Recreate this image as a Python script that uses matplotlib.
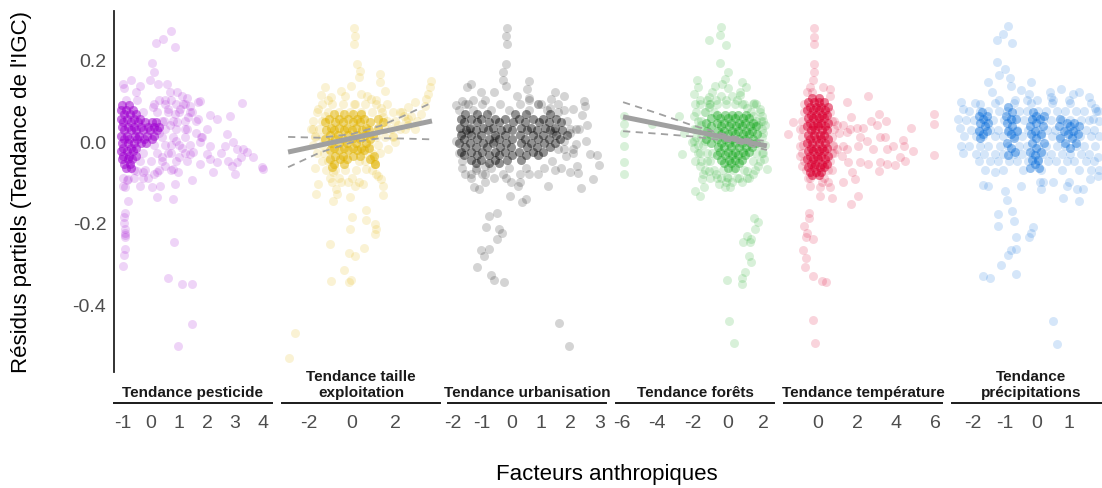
import numpy as np
import matplotlib.pyplot as plt

plt.rcParams['font.family'] = ['Liberation Sans', 'DejaVu Sans']
plt.rcParams['axes.unicode_minus'] = False

# panneaux (facettes)
panel_titles = ['Tendance pesticide', 'Tendance taille\nexploitation', 'Tendance urbanisation',
                'Tendance forêts', 'Tendance température', 'Tendance\nprécipitations']
panel_colors = ['#A000D2', '#E3B400', '#000000', '#1AAA22', '#DC0032', '#0A6EDC']
panel_xlims = [(-1.32, 4.32), (-3.22, 4.05), (-2.17, 3.23), (-6.33, 2.6), (-1.74, 6.36), (-2.66, 2.28)]
panel_xticks = [[-1, 0, 1, 2, 3, 4], [-2, 0, 2], [-2, -1, 0, 1, 2, 3], [-6, -4, -2, 0, 2], [0, 2, 4, 6], [-2, -1, 0, 1]]
y_ticks = [-0.4, -0.2, 0.0, 0.2]
# nombre d'observations superposees dans les zones denses (par panneau)
core_counts = [4, 4, 3, 3, 4, 3]

# residus partiels - pesticide (points isoles)
pest_pts = [(0.70, 0.27), (0.42, 0.25), (0.17, 0.24), (0.86, 0.23), (0.02, 0.19), (0.11, 0.17), (-0.04, 0.15),
            (-0.73, 0.15), (-1.01, 0.14), (-0.95, 0.13), (0.26, 0.14), (0.56, 0.14), (-0.39, 0.135), (-0.55, 0.12),
            (0.92, 0.12), (1.10, 0.11), (1.27, 0.105), (0.68, 0.12), (1.69, 0.095), (1.75, 0.097), (3.24, 0.093),
            (2.11, 0.064), (2.82, 0.06), (1.39, 0.086), (1.04, 0.078), (0.62, 0.078), (0.08, 0.082), (1.33, 0.058),
            (2.35, 0.054), (1.69, 0.054), (0.92, 0.046), (0.68, 0.038), (1.45, 0.07), (1.15, 0.09), (0.5, 0.1),
            (0.85, 0.065), (1.2, 0.03), (0.45, 0.05), (0.3, 0.02), (2.70, 0.017), (2.94, -0.003), (3.06, -0.02),
            (3.30, -0.02), (3.42, -0.026), (3.65, -0.04), (3.95, -0.064), (4.01, -0.069), (3.00, -0.081),
            (2.64, -0.011), (2.11, -0.011), (1.75, -0.003), (1.81, 0.009), (1.99, -0.032), (1.51, -0.028),
            (1.39, -0.032), (2.11, -0.044), (2.35, -0.052), (2.23, -0.077), (2.76, -0.048), (3.06, -0.052),
            (1.75, -0.056), (1.10, -0.016), (0.98, -0.077), (0.86, -0.105), (1.45, -0.095), (0.80, -0.142),
            (0.20, -0.138), (-0.39, -0.109), (0.02, -0.113), (0.32, -0.109), (0.80, -0.069), (0.20, -0.077),
            (-0.27, -0.077), (-0.51, -0.073), (0.5, -0.06), (0.6, -0.03), (0.9, 0.0), (1.3, -0.05), (2.5, -0.03),
            (3.2, -0.04), (2.9, -0.06), (1.6, 0.02), (2.0, 0.03), (0.7, -0.01), (1.0, -0.04), (0.4, -0.04),
            (0.1, -0.08), (-0.1, -0.09), (-0.81, -0.093), (-0.93, -0.113), (-0.81, -0.146), (-0.93, -0.175),
            (-0.96, -0.187), (-0.93, -0.215), (-0.93, -0.224), (-0.93, -0.236), (-0.93, -0.263), (-0.96, -0.279),
            (-0.99, -0.305), (0.83, -0.246), (0.62, -0.334), (1.10, -0.35), (1.45, -0.35), (1.45, -0.448),
            (0.98, -0.501), (-1.0, -0.11), (-0.87, -0.095), (-0.95, -0.2), (-0.92, -0.23)]
# zones moyennement denses : (y, [x ...])
pest_mid = [(0.10, [-0.9, -0.5, 0.3, 0.7]), (0.09, [0.1, 0.5, 0.9, 1.2]), (0.07, [-0.3, 0.2, 0.6, 1.0, 1.4]),
            (0.05, [0.4, 0.8, 1.2, 1.6]), (0.03, [0.5, 0.9, 1.3]), (0.01, [0.4, 0.8, 1.2, 1.8]),
            (-0.01, [0.1, 0.5, 1.0, 1.4]), (-0.03, [-0.3, 0.2, 0.7, 1.2]), (-0.05, [-0.4, 0.0, 0.4, 0.9]),
            (-0.07, [-0.6, -0.2, 0.3, 0.7]), (-0.09, [-1.0, -0.6, -0.3])]
# zones tres denses
pest_core = [(0.087, [-1.02, -0.78]), (0.076, [-1.06, -0.88, -0.63]), (0.066, [-0.97, -0.74, -0.52]),
             (0.053, [-1.07, -0.86, -0.62, -0.38]), (0.046, [-0.99, -0.71, -0.48, -0.22, 0.03, 0.18]),
             (0.034, [-1.04, -0.83, -0.6, -0.37, -0.12, 0.09, 0.27]),
             (0.027, [-0.95, -0.73, -0.52, -0.27, -0.02, 0.21]),
             (0.013, [-1.06, -0.87, -0.57, -0.41, -0.13, 0.12]), (0.004, [-0.98, -0.77, -0.49, -0.24, 0.02]),
             (-0.006, [-1.03, -0.83, -0.62, -0.37, -0.17]), (-0.017, [-0.99, -0.72, -0.52]),
             (-0.024, [-1.07, -0.86, -0.63]), (-0.036, [-1.01, -0.77, -0.53]), (-0.044, [-1.04, -0.83, -0.66]),
             (-0.057, [-0.97, -0.74]), (-0.066, [-0.88, -0.71])]

# taille exploitation
taille_pts = [(0.09, 0.276), (0.15, 0.256), (0.09, 0.237), (0.21, 0.188), (0.35, 0.172), (0.31, 0.156),
              (1.27, 0.164), (1.27, 0.145), (1.50, 0.123), (-0.06, 0.134), (0.43, 0.115), (-1.26, 0.131),
              (-1.41, 0.113), (-0.95, 0.107), (-0.49, 0.123), (3.65, 0.148), (3.57, 0.131), (3.49, 0.115),
              (3.42, 0.103), (3.34, 0.086), (2.88, 0.095), (2.57, 0.082), (3.19, 0.066), (2.73, 0.062),
              (1.35, 0.08), (1.43, 0.058), (0.89, 0.103), (0.12, 0.091), (-1.56, 0.078), (-1.26, 0.062),
              (-1.79, 0.029), (-1.72, 0.013), (-1.72, -0.067), (-1.56, -0.105), (-1.64, -0.13), (-0.72, -0.118),
              (-0.67, -0.13), (-0.87, -0.146), (-0.11, -0.138), (0.12, -0.109), (0.51, -0.105), (-0.18, -0.101),
              (1.43, -0.109), (1.43, -0.132), (1.20, -0.085), (1.35, -0.093), (0.66, -0.069), (1.04, -0.056),
              (1.96, -0.003), (2.42, 0.029), (1.66, -0.02), (1.89, 0.013), (2.11, 0.038), (2.88, 0.029),
              (2.57, 0.054), (0.66, -0.168), (0.0, -0.187), (0.66, -0.193), (1.04, -0.203), (1.12, -0.215),
              (1.04, -0.228), (-0.08, -0.215), (-1.0, -0.253), (-0.14, -0.273), (0.15, -0.282), (0.55, -0.262),
              (-0.37, -0.315), (-0.95, -0.342), (-0.15, -0.344), (-0.03, -0.339), (-2.61, -0.47), (-2.91, -0.53),
              (1.1, -0.08), (0.9, -0.04), (2.4, 0.06), (2.6, 0.04), (3.0, 0.05), (-0.9, -0.1), (-0.5, -0.1),
              (0.3, -0.1), (1.6, 0.09), (1.9, 0.07), (2.2, 0.07), (-1.1, 0.1), (-0.3, 0.11), (1.1, 0.1), (0.7, 0.11),
              (1.04, -0.056), (1.0, -0.05), (-0.87, -0.077)]
taille_mid = [(0.09, [-1.4, -0.9, -0.4, 0.1, 0.6, 1.1]), (0.07, [-1.6, -1.1, -0.6, -0.1, 0.4, 0.9, 1.4, 2.3]),
              (0.05, [-1.8, -1.4, 1.6, 2.0, 2.5]), (0.03, [-1.9, -1.5, 1.5, 1.8, 2.2]),
              (0.01, [-1.7, -1.4, 1.1, 1.5, 1.9]), (-0.01, [-1.8, -1.4, 0.8, 1.2]),
              (-0.03, [-1.6, -1.3, 0.5, 0.9, 1.3]), (-0.05, [-1.4, -1.1, 0.3, 0.6]),
              (-0.07, [-1.2, -0.8, -0.3, 0.2, 0.9]), (-0.09, [-1.0, -0.6, 0.0])]
taille_core = [(0.066, [-0.83, -0.37, 0.04, 0.42]), (0.054, [-1.04, -0.62, -0.18, 0.23, 0.57, 1.18]),
               (0.047, [-1.22, -0.79, -0.41, 0.03, 0.37, 0.84, 1.43]),
               (0.033, [-0.96, -0.58, -0.23, 0.18, 0.63, 1.21]),
               (0.026, [-1.18, -0.83, -0.37, 0.02, 0.44, 0.77]),
               (0.014, [-1.02, -0.64, -0.17, 0.24, 0.58, 0.98]),
               (0.006, [-1.24, -0.77, -0.43, -0.02, 0.37, 0.82]),
               (-0.004, [-0.97, -0.58, -0.22, 0.17, 0.63]), (-0.016, [-0.84, -0.38, 0.04, 0.42, 0.79]),
               (-0.023, [-1.03, -0.61, -0.17, 0.23, 0.57]), (-0.037, [-0.78, -0.42, 0.03, 0.38, 1.02]),
               (-0.044, [-1.02, -0.57, -0.22, 0.83]), (-0.056, [-0.81, -0.38, 1.04]), (-0.064, [-0.92])]
taille_fit_x = [-2.94, 3.68]
taille_fit_y = [-0.027, 0.049]
taille_ci_x = [-2.94, -1.47, 0.0, 1.3, 2.4, 3.68]
taille_ci_hi = [0.010, 0.008, 0.017, 0.037, 0.062, 0.094]
taille_ci_lo = [-0.064, -0.028, -0.003, 0.007, 0.006, 0.004]

# urbanisation
urb_pts = [(-0.14, 0.276), (-0.19, 0.256), (-0.14, 0.237), (-0.2, 0.188), (-0.28, 0.168), (-0.28, 0.15),
           (-0.2, 0.135), (0.6, 0.148), (0.52, 0.127), (-1.39, 0.14), (-1.53, 0.131), (-1.05, 0.119),
           (-0.6, 0.119), (0.2, 0.109), (0.6, 0.104), (1.5, 0.119), (1.81, 0.109), (1.34, 0.103), (1.0, 0.091),
           (2.47, 0.099), (2.5, 0.085), (2.42, 0.064), (2.59, 0.039), (2.11, 0.078), (-1.9, 0.088),
           (-1.68, 0.099), (2.70, -0.032), (2.93, -0.034), (2.99, -0.059), (2.79, -0.093), (2.36, -0.116),
           (2.0, -0.075), (2.25, -0.06), (2.27, -0.078), (1.25, -0.109), (1.85, -0.036), (2.19, -0.007),
           (2.53, 0.001), (-1.28, -0.113), (-1.11, -0.118), (-0.05, -0.135), (0.37, -0.15), (0.48, -0.142),
           (0.22, -0.109), (-0.77, -0.184), (-0.48, -0.176), (-0.88, -0.211), (-0.43, -0.215), (-0.31, -0.224),
           (-0.48, -0.24), (-1.05, -0.266), (-0.77, -0.264), (-0.94, -0.281), (-1.19, -0.307), (-0.71, -0.328),
           (-0.6, -0.339), (-0.26, -0.344), (1.64, -0.444), (1.96, -0.501), (-1.9, 0.0), (-1.7, 0.02),
           (-1.8, -0.03), (-1.7, -0.05), (-1.6, -0.08), (-1.4, -0.09), (-1.2, -0.07), (-1.0, -0.08),
           (-0.6, -0.09), (-0.2, -0.09), (0.0, -0.1), (0.6, -0.08), (1.4, -0.05), (1.6, -0.02), (1.8, 0.0),
           (2.0, 0.02), (2.2, 0.03), (1.9, 0.05), (1.6, 0.07), (1.3, 0.08), (-1.3, 0.1), (-0.9, 0.1), (0.9, 0.09),
           (2.1, -0.03), (1.5, -0.07), (0.3, -0.1), (-0.9, -0.1), (-1.5, 0.09), (0.6, 0.1),
           (-1.5, 0.02), (-1.45, 0.03), (-0.6, 0.0), (-0.55, 0.01), (1.4, 0.02), (1.45, 0.025), (-0.9, -0.06)]
urb_mid = [(0.09, [-1.6, -1.0, -0.4, 0.3, 0.9, 1.6]), (0.075, [-1.8, -1.3, -0.7, -0.1, 0.6, 1.2, 1.8]),
           (0.03, [2.0, 2.3]), (-0.02, [1.8, 2.1]), (-0.065, [-1.7, -1.2, -0.7, -0.1, 0.5, 1.1, 1.7]),
           (-0.08, [-1.4, -0.9, -0.3, 0.3, 0.9])]
urb_core = [(0.066, [-1.58, -1.17, -0.83, 0.12, 0.48, 1.33]),
            (0.054, [-1.73, -1.37, -1.04, -0.57, -0.22, 0.27, 0.73, 1.08, 1.52]),
            (0.047, [-1.62, -1.18, -0.78, -0.43, 0.04, 0.47, 0.93, 1.27, 1.68]),
            (0.033, [-1.77, -1.42, -0.97, -0.63, -0.17, 0.32, 0.68, 1.13, 1.47]),
            (0.026, [-1.57, -1.23, -0.82, -0.37, 0.02, 0.53, 0.87, 1.33, 1.72]),
            (0.014, [-1.72, -1.38, -1.03, -0.58, -0.23, 0.28, 0.74, 1.08, 1.53, 1.88]),
            (0.004, [-1.63, -1.17, -0.77, -0.42, 0.03, 0.47, 0.92, 1.28, 1.67]),
            (-0.006, [-1.78, -1.43, -0.98, -0.62, -0.18, 0.33, 0.67, 1.12, 1.48]),
            (-0.014, [-1.58, -1.22, -0.83, -0.38, -0.03, 0.52, 0.88, 1.32]),
            (-0.027, [-1.73, -1.37, -1.02, -0.57, -0.22, 0.27, 0.73, 1.07]),
            (-0.034, [-1.62, -1.18, -0.77, -0.43, 0.03, 0.48, 0.92]),
            (-0.046, [-1.38, -1.03, -0.58, -0.17, 0.32]), (-0.053, [-1.22, -0.78, -0.42])]

# forets
for_pts = [(-0.38, 0.278), (-0.43, 0.259), (-1.05, 0.248), (-0.09, 0.235), (-0.43, 0.191), (0.0, 0.17),
           (-0.15, 0.152), (-1.75, 0.15), (-1.69, 0.131), (-0.72, 0.134), (-0.34, 0.14), (0.79, 0.144),
           (1.02, 0.131), (0.7, 0.113), (-1.94, 0.115), (-1.85, 0.091), (1.45, 0.092), (1.83, 0.078),
           (1.88, 0.05), (-1.09, 0.107), (-1.09, 0.082), (-5.89, 0.062), (-5.89, 0.042), (-5.89, 0.02),
           (-5.89, -0.013), (-5.89, -0.051), (-5.89, -0.081), (-4.29, 0.042), (-2.79, 0.06), (-2.6, -0.032),
           (-2.03, -0.003), (-2.5, 0.02), (-1.85, -0.122), (-1.56, -0.135), (-1.37, -0.113), (-1.47, -0.093),
           (-1.09, -0.073), (-0.53, -0.105), (-0.15, -0.113), (0.13, -0.113), (-0.06, -0.089), (1.07, -0.073),
           (2.2, -0.069), (2.02, -0.044), (-1.85, -0.048), (-1.94, -0.016), (1.45, -0.189), (1.69, -0.199),
           (1.51, -0.215), (1.07, -0.232), (1.32, -0.24), (1.26, -0.248), (0.83, -0.248), (1.17, -0.281),
           (1.32, -0.297), (0.98, -0.32), (0.79, -0.336), (0.79, -0.35), (-0.06, -0.339), (0.08, -0.44),
           (0.32, -0.494), (-1.9, 0.06), (-1.8, 0.03), (-1.9, 0.0), (-1.7, -0.03), (-1.6, -0.06), (-1.4, -0.08),
           (-1.2, -0.05), (-1.3, 0.0), (-1.5, 0.04), (-1.3, 0.07), (-1.0, 0.09), (-0.7, 0.1), (-0.4, 0.11),
           (-0.1, 0.1), (0.2, 0.11), (0.5, 0.1), (0.8, 0.09), (1.1, 0.08), (1.4, 0.06), (1.7, 0.04), (2.0, 0.02),
           (2.1, -0.01), (1.9, -0.03), (1.7, -0.06), (1.4, -0.08), (1.1, -0.09), (0.8, -0.1), (0.5, -0.09),
           (0.2, -0.1), (-0.1, -0.1), (-0.4, -0.09), (-0.7, -0.08), (-1.0, -0.09), (1.9, 0.06), (1.6, 0.09),
           (-1.6, 0.1), (-0.9, 0.12), (0.0, 0.13), (0.7, 0.12), (2.1, 0.04), (-1.2, 0.1)]
for_mid = [(0.09, [-1.6, -1.1, -0.6, -0.1, 0.4, 0.9, 1.4]), (0.07, [-1.8, -1.3, -0.8, 1.3, 1.8]),
           (0.05, [-1.7, -1.5, 1.6, 2.0]), (0.03, [-1.9, -1.4, 1.9]), (0.01, [-1.8, -1.5, 1.9]),
           (-0.01, [-1.7, -1.4, 1.8]), (-0.03, [-1.6, -1.2, -0.9, 1.6, 2.0]), (-0.05, [-1.5, -1.0, 1.4, 1.8]),
           (-0.07, [-1.3, -0.8, -0.3, 0.3, 0.9, 1.5]), (-0.09, [-0.6, 0.0, 0.6, 1.2])]
for_core = [(0.064, [-0.62, -0.17, 0.23, 0.58, 1.03]), (0.056, [-0.98, -0.43, 0.02, 0.38, 0.83, 1.18]),
            (0.043, [-1.22, -0.63, -0.22, 0.17, 0.62, 0.98, 1.42]),
            (0.036, [-0.97, -0.38, 0.03, 0.43, 0.77, 1.23, 1.58]),
            (0.024, [-1.18, -0.57, -0.23, 0.22, 0.58, 1.02, 1.37]),
            (0.016, [-1.03, -0.42, -0.02, 0.37, 0.83, 1.17, 1.63]),
            (0.004, [-1.23, -0.63, -0.18, 0.23, 0.62, 0.97, 1.43]),
            (-0.006, [-0.98, -0.37, 0.03, 0.42, 0.78, 1.22, 1.57]),
            (-0.014, [-0.58, -0.22, 0.17, 0.63, 1.03, 1.38]), (-0.026, [-0.43, 0.02, 0.38, 0.82, 1.18]),
            (-0.034, [-0.62, -0.18, 0.23, 0.57, 0.97]), (-0.046, [-0.37, 0.03, 0.42, 0.78]),
            (-0.054, [-0.22, 0.18, 0.62]), (-0.066, [0.02, 0.37])]
for_fit_x = [-5.93, 2.2]
for_fit_y = [0.059, -0.012]
for_ci_x = [-5.93, -4.0, -2.0, 0.0, 1.0, 2.2]
for_ci_hi = [0.095, 0.068, 0.038, 0.014, 0.005, 0.0]
for_ci_lo = [0.024, 0.018, 0.011, 0.0, -0.009, -0.022]

# temperature
temp_pts = [(-0.19, 0.276), (-0.19, 0.254), (-0.19, 0.237), (-0.19, 0.188), (-0.19, 0.168), (-0.24, 0.15),
            (-0.41, 0.131), (0.27, 0.131), (0.62, 0.127), (-0.55, 0.119), (1.47, 0.096), (2.58, 0.109),
            (1.68, 0.058), (3.15, 0.066), (3.49, 0.05), (2.7, 0.05), (3.01, 0.038), (4.75, 0.031), (5.95, 0.066),
            (5.95, 0.042), (5.95, -0.033), (1.64, 0.029), (1.98, 0.033), (2.32, 0.033), (1.47, 0.021),
            (2.15, 0.009), (2.5, 0.001), (3.18, 0.009), (3.44, 0.011), (4.38, 0.003), (4.41, -0.011),
            (3.86, -0.011), (3.52, -0.02), (2.84, -0.02), (2.07, -0.011), (1.47, -0.02), (1.26, -0.011),
            (4.89, -0.024), (4.21, -0.04), (4.46, -0.048), (3.95, -0.059), (3.52, -0.056), (3.18, -0.052),
            (3.15, -0.073), (2.58, -0.056), (2.15, -0.052), (1.56, -0.051), (1.73, -0.077), (1.9, -0.093),
            (1.3, -0.101), (2.03, -0.134), (1.68, -0.154), (0.7, -0.14), (0.1, -0.135), (1.21, -0.036),
            (0.79, -0.011), (-0.44, -0.175), (-0.44, -0.189), (-0.72, -0.209), (-0.58, -0.224), (-0.62, -0.236),
            (-0.27, -0.24), (-0.75, -0.266), (-0.62, -0.285), (-0.67, -0.309), (-0.24, -0.33), (0.19, -0.342),
            (0.41, -0.344), (-0.24, -0.437), (-0.15, -0.493), (-1.52, 0.017), (-1.26, 0.046), (-0.92, -0.011),
            (-0.92, -0.036), (-0.41, -0.109), (0.1, -0.113), (0.62, -0.113), (0.53, -0.101), (-0.9, 0.03),
            (-0.8, -0.06), (0.8, 0.05), (0.8, -0.03), (0.7, -0.07), (-0.7, 0.09), (0.6, 0.11), (-0.3, 0.12),
            (0.2, -0.1), (-0.4, -0.09), (1.0, 0.04), (1.1, 0.02), (1.3, 0.04), (1.0, -0.02)]
temp_mid = [(0.07, [-0.7, 0.6]), (0.05, [-0.8, 0.7]), (0.03, [-0.75, 0.8]), (0.01, [-0.8, 0.7]),
            (-0.01, [-0.75, 0.75]), (-0.03, [-0.8, 0.7]), (-0.05, [-0.7, 0.6]), (-0.07, [-0.6, 0.5]),
            (-0.09, [-0.5, 0.3])]
temp_core = [(0.104, [-0.32, 0.03]), (0.096, [-0.53, -0.22, 0.07, 0.33]), (0.084, [-0.42, -0.08, 0.18, 0.52]),
             (0.076, [-0.57, -0.27, 0.03, 0.37]), (0.064, [-0.38, -0.12, 0.22, 0.48]),
             (0.057, [-0.52, -0.23, 0.07, 0.32]), (0.044, [-0.43, -0.07, 0.18, 0.53]),
             (0.036, [-0.58, -0.27, 0.02, 0.38]), (0.026, [-0.37, -0.13, 0.23, 0.47]),
             (0.014, [-0.53, -0.22, 0.08, 0.33]), (0.006, [-0.42, -0.08, 0.17, 0.52]),
             (-0.004, [-0.57, -0.28, 0.03, 0.37]), (-0.016, [-0.38, -0.12, 0.22, 0.48]),
             (-0.024, [-0.52, -0.23, 0.07, 0.32]), (-0.036, [-0.43, -0.07, 0.18, 0.53]),
             (-0.044, [-0.58, -0.27, 0.02, 0.38]), (-0.056, [-0.37, -0.13, 0.23, 0.47]),
             (-0.064, [-0.53, -0.22, 0.08, 0.33]), (-0.076, [-0.42, -0.08, 0.17]), (-0.084, [-0.28, 0.03])]

# precipitations
prec_pts = [(-0.92, 0.281), (-1.05, 0.262), (-1.25, 0.246), (-0.78, 0.24), (-1.25, 0.194), (-0.99, 0.176),
            (-1.18, 0.162), (-0.86, 0.153), (-0.83, 0.135), (-1.54, 0.144), (-1.41, 0.121), (-0.19, 0.145),
            (-0.24, 0.115), (0.75, 0.127), (1.32, 0.121), (1.61, 0.107), (1.11, 0.115), (0.44, 0.107),
            (-2.38, 0.095), (-2.32, 0.078), (-2.48, 0.054), (-2.42, 0.033), (-2.38, -0.011), (-2.32, -0.029),
            (1.9, 0.074), (1.95, 0.05), (1.74, 0.054), (-1.7, -0.107), (-1.54, -0.109), (-0.99, -0.122),
            (-0.95, -0.144), (0.18, -0.101), (0.49, -0.101), (0.8, -0.14), (1.32, -0.146), (1.26, -0.118),
            (1.43, -0.118), (0.13, -0.118), (0.93, -0.109), (-1.3, -0.075), (1.9, -0.085), (1.64, -0.093),
            (-1.21, -0.179), (-1.21, -0.207), (-0.78, -0.171), (-0.73, -0.195), (-0.14, -0.211), (-0.19, -0.224),
            (-0.26, -0.236), (-0.66, -0.236), (-0.66, -0.263), (-0.81, -0.266), (-0.92, -0.279), (-1.13, -0.304),
            (-1.68, -0.33), (-1.47, -0.334), (-0.66, -0.326), (0.51, -0.441), (0.61, -0.496), (-1.2, 0.1),
            (-0.7, 0.1), (-0.3, 0.1), (0.0, 0.1), (0.5, 0.1), (1.0, 0.1), (0.4, 0.12), (-0.5, 0.125),
            (1.8, 0.08), (-1.8, 0.09), (0.1, -0.1), (-0.5, -0.11), (1.0, -0.1), (1.9, -0.04), (1.7, -0.07)]
prec_mid = [(0.092, [-1.93, -1.31, -0.72, -0.18, 0.47, 1.02, 1.68]),
            (0.073, [-2.12, -1.77, -1.52, -1.18, -0.93, -0.57, -0.33, 0.04, 0.27, 0.63, 0.88, 1.23, 1.47, 1.83]),
            (0.052, [-2.23, -1.98, -1.62, -1.37, -1.02, -0.78, -0.42, -0.17, 0.18, 0.43, 0.77, 1.02, 1.38, 1.63]),
            (0.028, [-2.08, -1.83, -1.47, -1.22, -0.88, -0.63, -0.27, 0.03, 0.32, 0.57, 0.93, 1.18, 1.52, 1.77]),
            (0.012, [-2.27, -1.92, -1.68, -1.33, -1.07, -0.72, -0.47, -0.12, 0.13, 0.48, 0.72, 1.08, 1.33, 1.68,
                     1.93]),
            (-0.011, [-2.13, -1.78, -1.53, -1.17, -0.92, -0.58, -0.32, 0.03, 0.28, 0.62, 0.87, 1.22, 1.48, 1.82]),
            (-0.032, [-1.92, -1.67, -1.32, -1.08, -0.73, -0.48, -0.13, 0.17, 0.42, 0.78, 1.03, 1.37, 1.62]),
            (-0.049, [-1.83, -1.47, -1.22, -0.87, -0.62, -0.28, 0.02, 0.33, 0.58, 0.92, 1.17, 1.53, 1.78]),
            (-0.071, [-1.62, -1.08, -0.43, 0.12, 0.78, 1.32, 1.93])]
prec_core = [(0.082, [-0.92]), (0.071, [-1.72, -0.78, -0.12]), (0.062, [-1.83, -1.58, -0.97, -0.02, 0.23]),
             (0.053, [-1.68, -0.83, -0.67, -0.17, 0.08, 0.73]), (0.044, [-1.77, -1.52, -0.93, -0.03, 0.92, 1.17]),
             (0.036, [-1.63, -0.77, -0.22, 0.17, 0.68, 1.03, 1.32]),
             (0.024, [-1.82, -1.57, -0.92, -0.62, -0.07, 0.83, 1.12]),
             (0.016, [-1.68, -0.83, -0.18, 0.13, 0.97, 1.27]), (0.007, [-1.78, -0.72, -0.02, 0.72, 1.08]),
             (-0.004, [-0.93, -0.17, 0.22, 0.88, 1.22]), (-0.016, [-0.82, -0.03, 1.02]),
             (-0.027, [-0.68, -0.22, 0.12]), (-0.034, [-0.92, -0.07]), (-0.046, [-0.17, 0.03]),
             (-0.057, [-0.08]), (-0.066, [-0.22, 0.07])]

all_pts = [pest_pts, taille_pts, urb_pts, for_pts, temp_pts, prec_pts]
all_mid = [pest_mid, taille_mid, urb_mid, for_mid, temp_mid, prec_mid]
all_core = [pest_core, taille_core, urb_core, for_core, temp_core, prec_core]


def rows_xy(rows):
    xs = [x for yv, row in rows for x in row]
    ys = [yv for yv, row in rows for x in row]
    return np.array(xs), np.array(ys)


W, H = 1102, 489
fig = plt.figure(figsize=(W / 100, H / 100), dpi=100)
lefts = [114, 282, 448, 616, 784, 952]
top_px, bot_px = 12, 373
grey = '#A0A0A0'

for i in range(6):
    ax = fig.add_axes([lefts[i] / W, 1 - bot_px / H, 158 / W, (bot_px - top_px) / H])
    x, y = np.array(all_pts[i]).T
    mx, my = rows_xy(all_mid[i])
    cx, cy = rows_xy(all_core[i])
    cx = np.repeat(cx, core_counts[i])
    cy = np.repeat(cy, core_counts[i])
    ax.scatter(np.concatenate([x, mx, cx]), np.concatenate([y, my, cy]), s=42, color=panel_colors[i],
               alpha=0.17, linewidths=0)
    if i == 1:
        ax.plot(taille_fit_x, taille_fit_y, color=grey, lw=3.6, solid_capstyle='butt')
        ax.plot(taille_ci_x, taille_ci_hi, color=grey, lw=1.3, ls=(0, (4, 3)))
        ax.plot(taille_ci_x, taille_ci_lo, color=grey, lw=1.3, ls=(0, (4, 3)))
    if i == 3:
        ax.plot(for_fit_x, for_fit_y, color=grey, lw=3.6, solid_capstyle='butt')
        ax.plot(for_ci_x, for_ci_hi, color=grey, lw=1.3, ls=(0, (4, 3)))
        ax.plot(for_ci_x, for_ci_lo, color=grey, lw=1.3, ls=(0, (4, 3)))
    ax.set_xlim(panel_xlims[i])
    ax.set_ylim(-0.565, 0.318)
    ax.set_xticks(panel_xticks[i])
    ax.set_xticklabels([str(t) for t in panel_xticks[i]])
    ax.tick_params(axis='x', length=0, pad=30.5, labelsize=14, labelcolor='#4D4D4D')
    for s in ['top', 'right', 'bottom']:
        ax.spines[s].set_visible(False)
    if i == 0:
        ax.set_yticks(y_ticks)
        ax.set_yticklabels(['%.1f' % t for t in y_ticks])
        ax.tick_params(axis='y', length=0, pad=5.5, labelsize=14, labelcolor='#4D4D4D')
        ax.spines['left'].set_color('#222222')
        ax.spines['left'].set_linewidth(1.3)
    else:
        ax.set_yticks([])
        ax.spines['left'].set_visible(False)
    # bandeau de la facette sous le panneau
    ax.plot([0, 1], [-0.086, -0.086], transform=ax.transAxes, clip_on=False, color='#1A1A1A', lw=1.4)
    ax.text(0.5, -0.075, panel_titles[i], transform=ax.transAxes, ha='center', va='bottom',
            fontsize=11, fontweight='bold', color='#1A1A1A', linespacing=1.15)

fig.text(22 / W, 1 - 192.5 / H, "Résidus partiels (Tendance de l'IGC)", rotation=90,
         ha='center', va='center', fontsize=16)
fig.text(0.551, 1 - 475 / H, 'Facteurs anthropiques', ha='center', va='center', fontsize=16)

fig.savefig('out.png', dpi=100)
